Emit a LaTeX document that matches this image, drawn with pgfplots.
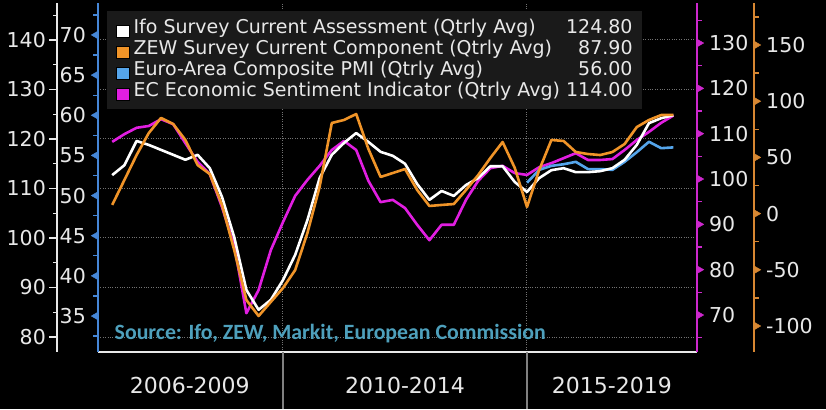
\documentclass[border=0pt]{standalone}
\usepackage{fontspec}
\setmainfont{DejaVu Sans}
\newfontfamily\carlito{Carlito}
\usepackage{pgfplots}
\pgfplotsset{compat=1.18}

\definecolor{ifoc}{RGB}{255,255,255}
\definecolor{zewc}{RGB}{240,148,40}
\definecolor{pmic}{RGB}{85,165,235}
\definecolor{esic}{RGB}{225,30,225}
\definecolor{legbg}{RGB}{26,26,26}
\definecolor{labc}{RGB}{232,232,232}
\definecolor{gridc}{RGB}{115,115,115}
\definecolor{srcc}{RGB}{78,160,188}
\definecolor{pmiax}{RGB}{70,135,215}
\definecolor{esiax}{RGB}{205,40,205}
\definecolor{zewax}{RGB}{215,135,50}

\newcommand\tickfont{\fontsize{20.5}{24}\selectfont}
\newcommand\legfont{\fontsize{19}{22}\selectfont}

\pgfplotsset{
  base/.style={width=599pt, height=349pt, scale only axis, at={(0pt,0pt)}, anchor=south west,
    xmin=2006.209, xmax=2018.484, clip=false},
  sideax/.style={axis x line=none, xtick=\empty, tick align=outside,
    major tick length=0pt, minor tick length=5pt,
    yticklabel style={font=\tickfont, text=labc, inner xsep=0pt}},
  ser/.style={line width=2.6pt, line join=round, mark=none},
  tri/.style={only marks, mark=triangle*, mark size=4.5pt, forget plot},
}

\begin{document}
\begin{tikzpicture}
\fill[black] (-98pt,-57pt) rectangle (728pt,352pt);

% frame: grid, periods, legend, source
\begin{axis}[base, ymin=76.97, ymax=147.47,
  axis x line*=bottom, axis y line*=right,
  x axis line style={-, draw=labc, line width=1.5pt},
  y axis line style={draw=none},
  xtick={2008.09,2012.5,2016.74},
  xticklabels={2006-2009,2010-2014,2015-2019},
  xticklabel style={font=\fontsize{22}{26}\selectfont, text=labc, anchor=center, yshift=-33pt},
  major tick length=0pt, tick align=outside,
  tick style={draw=gray, line width=1.3pt},
  extra x ticks={2010,2015}, extra x tick labels={},
  extra x tick style={grid=major, major tick length=57pt},
  ytick={80,90,...,140}, yticklabel={}, yticklabel pos=right,
  yticklabel style={anchor=west, inner sep=0pt, font=\tiny},
  ymajorgrids,
  major grid style={dotted, gridc, line width=1pt},
  legend image code/.code={\fill[#1] (0pt,-8.5pt) rectangle (13pt,3.5pt);},
  legend cell align=left,
  legend style={at={(0.015,0.978)}, anchor=north west, fill=legbg, draw=none,
    text=labc, font=\legfont, inner xsep=9pt, inner ysep=8.5pt,
    nodes={inner sep=0pt, text height=14pt, text depth=4.5pt},
    row sep=2.5pt,
    /tikz/every odd column/.append style={column sep=4pt}},
]
\addplot[draw=none, forget plot] coordinates {(2010,100)};
\addlegendimage{fill=ifoc}
\addlegendentry{\makebox[430pt][l]{Ifo Survey Current Assessment (Qtrly Avg)}\makebox[69pt][r]{124.80}}
\addlegendimage{fill=zewc}
\addlegendentry{\makebox[430pt][l]{ZEW Survey Current Component (Qtrly Avg)}\makebox[69pt][r]{87.90}}
\addlegendimage{fill=pmic}
\addlegendentry{\makebox[430pt][l]{Euro-Area Composite PMI (Qtrly Avg)}\makebox[69pt][r]{56.00}}
\addlegendimage{fill=esic}
\addlegendentry{\makebox[430pt][l]{EC Economic Sentiment Indicator (Qtrly Avg)}\makebox[69pt][r]{114.00}}
\node[anchor=west, text=srcc, font=\carlito\bfseries\fontsize{21.8}{25}\selectfont]
  at (rel axis cs:0.022,0.052) {Source: Ifo, ZEW, Markit, European Commission};
\end{axis}

% EC Economic Sentiment Indicator (right, magenta)
\begin{axis}[base, sideax, ymin=61.84, ymax=138.83,
  axis y line*=right,
  y axis line style={-, draw=esiax, line width=2pt},
  tick style={draw=esiax, line width=1.3pt},
  ytick={70,80,...,130}, yticklabels={70,80,90,100,110,120,130},
  minor ytick={65,75,...,135},
  yticklabel style={anchor=west, xshift=12pt},
]
\addplot[ser, esic] coordinates {
(2006.50,108.2) (2006.75,109.9) (2007.00,111.3) (2007.25,111.7) (2007.50,113.2)
(2007.75,112.1) (2008.00,107.9) (2008.25,103.8) (2008.50,101.1) (2008.75,93.8)
(2009.00,85.4) (2009.25,70.4) (2009.50,75.5) (2009.75,84.3) (2010.00,90.5)
(2010.25,96.3) (2010.50,99.8) (2010.75,102.9) (2011.00,106.4) (2011.25,108.4)
(2011.50,106.4) (2011.75,99.6) (2012.00,94.9) (2012.25,95.4) (2012.50,93.6)
(2012.75,89.9) (2013.00,86.5) (2013.25,89.9) (2013.50,89.9) (2013.75,95.4)
(2014.00,99.6) (2014.25,102.4) (2014.50,102.9) (2014.75,101.3) (2015.00,100.9)
(2015.25,102.6) (2015.50,103.5) (2015.75,104.6) (2016.00,105.7) (2016.25,104.2)
(2016.50,104.2) (2016.75,104.4) (2017.00,106.4) (2017.25,108.6) (2017.50,110.4)
(2017.75,112.4) (2018.00,114.0)
};
\addplot[tri, esiax, mark options={xshift=2.25pt, rotate=-90}] coordinates {
(2018.484,70) (2018.484,80) (2018.484,90) (2018.484,100) (2018.484,110) (2018.484,120) (2018.484,130)
};
\end{axis}

% Euro-Area Composite PMI (inner left, blue)
\begin{axis}[base, sideax, ymin=30.52, ymax=73.98,
  axis y line*=left,
  y axis line style={-, draw=pmiax, line width=1.5pt},
  tick style={draw=pmiax, line width=1.3pt},
  ytick={35,40,...,70}, yticklabels={35,40,45,50,55,60,65,70},
  minor ytick={32.5,37.5,...,72.5},
  yticklabel style={anchor=east, xshift=-12pt},
]
\addplot[ser, pmic] coordinates {
(2015.00,51.6) (2015.25,53.2) (2015.50,53.7) (2015.75,53.9) (2016.00,54.2)
(2016.25,53.3) (2016.50,53.3) (2016.75,53.2) (2017.00,54.2) (2017.25,55.4)
(2017.50,56.7) (2017.75,55.9) (2018.00,56.0)
};
\addplot[tri, pmiax, mark options={xshift=-2.25pt, rotate=90}] coordinates {
(2006.209,35) (2006.209,40) (2006.209,45) (2006.209,50) (2006.209,55) (2006.209,60) (2006.209,65) (2006.209,70)
};
\end{axis}

% Ifo Survey Current Assessment (white)
\begin{axis}[base, hide axis, ymin=76.97, ymax=147.47]
\addplot[ser, ifoc] coordinates {
(2006.50,112.7) (2006.75,114.7) (2007.00,119.6) (2007.25,118.8) (2007.50,117.8)
(2007.75,116.8) (2008.00,115.8) (2008.25,116.8) (2008.50,114.1) (2008.75,108.3)
(2009.00,100.2) (2009.25,89.5) (2009.50,85.5) (2009.75,87.5) (2010.00,91.5)
(2010.25,96.6) (2010.50,103.6) (2010.75,112.1) (2011.00,116.8) (2011.25,119.2)
(2011.50,121.2) (2011.75,119.4) (2012.00,117.4) (2012.25,116.6) (2012.50,115.0)
(2012.75,110.9) (2013.00,107.7) (2013.25,109.5) (2013.50,108.5) (2013.75,110.7)
(2014.00,112.1) (2014.25,114.5) (2014.50,114.5) (2014.75,111.3) (2015.00,109.3)
(2015.25,112.1) (2015.50,113.7) (2015.75,114.1) (2016.00,113.3) (2016.25,113.3)
(2016.50,113.5) (2016.75,114.1) (2017.00,115.8) (2017.25,118.8) (2017.50,123.2)
(2017.75,124.2) (2018.00,124.8)
};
\end{axis}

% ZEW Survey Current Component (outer right, orange)
\begin{axis}[base, sideax, width=656pt, xmax=2019.652, ymin=-123.13, ymax=187.37,
  axis y line*=right,
  y axis line style={-, draw=zewax, line width=1.5pt},
  tick style={draw=zewax, line width=1.3pt},
  ytick={-100,-50,...,150}, yticklabels={-100,-50,0,50,100,150},
  minor ytick={-75,-25,...,175},
  yticklabel style={anchor=west, xshift=12pt},
]
\addplot[ser, zewc] coordinates {
(2006.50,7.7) (2006.75,29.9) (2007.00,52.1) (2007.25,71.7) (2007.50,85.1)
(2007.75,79.7) (2008.00,65.5) (2008.25,43.2) (2008.50,35.2) (2008.75,7.7)
(2009.00,-32.4) (2009.25,-76.9) (2009.50,-91.1) (2009.75,-78.6) (2010.00,-66.2)
(2010.25,-50.2) (2010.50,-17.3) (2010.75,23.7) (2011.00,80.6) (2011.25,83.3)
(2011.50,88.6) (2011.75,57.5) (2012.00,32.6) (2012.25,36.1) (2012.50,39.7)
(2012.75,21.0) (2013.00,6.8) (2013.25,7.7) (2013.50,8.5) (2013.75,21.0)
(2014.00,34.3) (2014.25,49.5) (2014.50,63.7) (2014.75,40.6) (2015.00,5.9)
(2015.25,38.8) (2015.50,65.5) (2015.75,64.6) (2016.00,54.8) (2016.25,53.0)
(2016.50,52.1) (2016.75,54.8) (2017.00,61.9) (2017.25,77.0) (2017.50,83.3)
(2017.75,87.7) (2018.00,87.9)
};
\addplot[tri, zewax, mark options={xshift=2.25pt, rotate=-90}] coordinates {
(2019.652,-100) (2019.652,-50) (2019.652,0) (2019.652,50) (2019.652,100) (2019.652,150)
};
\end{axis}

% Ifo axis (outer left, white)
\begin{axis}[width=640pt, height=349pt, scale only axis, at={(-41pt,0pt)}, anchor=south west,
  xmin=2005.369, xmax=2018.484, ymin=76.97, ymax=147.47,
  axis x line=none, xtick=\empty, axis y line*=left,
  y axis line style={-, draw=labc, line width=1.5pt},
  tick style={draw=labc, line width=1.3pt},
  tick align=outside, major tick length=8pt, minor tick length=4pt,
  ytick={80,90,...,140}, yticklabels={80,90,100,110,120,130,140},
  minor ytick={85,95,...,145},
  yticklabel style={font=\tickfont, text=labc, anchor=east, inner xsep=0pt, xshift=-3pt},
]
\addplot[draw=none] coordinates {(2010,100)};
\end{axis}

\pgfresetboundingbox
\useasboundingbox (-98pt,-57pt) rectangle (728pt,352pt);
\end{tikzpicture}
\end{document}
